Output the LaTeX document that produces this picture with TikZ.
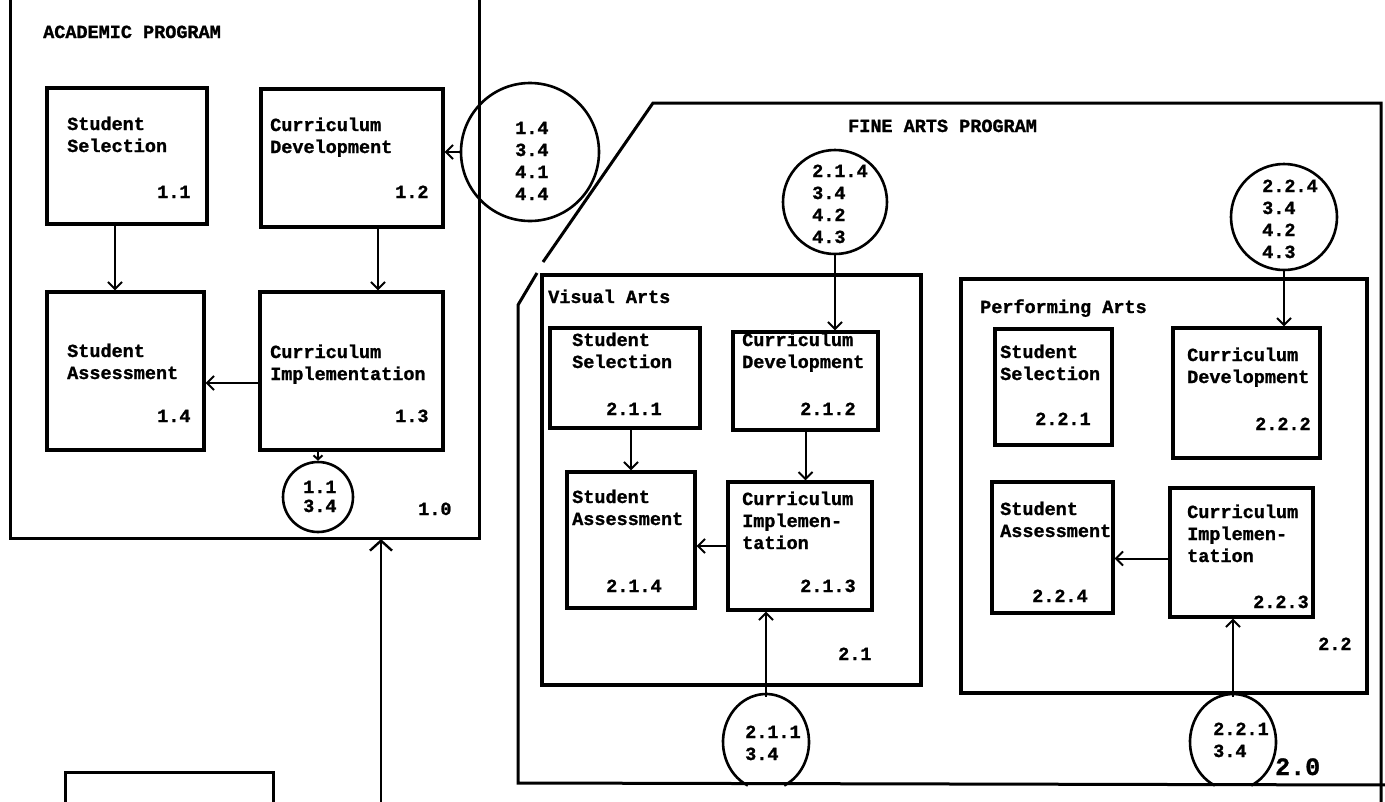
\documentclass[tikz,border=0pt]{standalone}
\usepackage{fontspec}
\setmainfont{Liberation Mono}[BoldFeatures={FakeBold=1.2}]
\usetikzlibrary{arrows.meta,fit}
\begin{document}
\begin{tikzpicture}[x=1pt,y=-1pt,
  box/.style={draw, line width=3.2pt, inner sep=0pt},
  txt/.style={font=\bfseries\fontsize{18.5}{22}\selectfont, inner sep=0pt, anchor=base west, align=left},
  big/.style={font=\bfseries\fontsize{25}{30}\selectfont, inner sep=0pt, anchor=base west},
  arr/.style={line width=2pt, -{Straight Barb[length=7pt,width=14pt]}},
  bigarr/.style={line width=2.4pt, -{Straight Barb[length=10pt,width=22pt]}},
  ring/.style={draw, circle, line width=2.6pt, inner sep=0pt},
  frame/.style={line width=3pt}]
\useasboundingbox (0,0) rectangle (1385,801);

%% ---------------- ACADEMIC PROGRAM ----------------
\draw[frame] (10,-5) -- (10,538) -- (479,538) -- (479,-5);
\node[txt] (tacad) at (43,38) {ACADEMIC PROGRAM};

\node[box, fit={(47,88)(207,224)}] (b11) {};
\node[txt] (t11) at (67,152) {Student\\Selection};
\node[txt] (n11) at (157,198) {1.1};

\node[box, fit={(261,89)(443,227)}] (b12) {};
\node[txt] (t12) at (270,153) {Curriculum\\Development};
\node[txt] (n12) at (395,198) {1.2};

\node[box, fit={(47,292)(204,450)}] (b14) {};
\node[txt] (t14) at (67,379) {Student\\Assessment};
\node[txt] (n14) at (157,422) {1.4};

\node[box, fit={(260,292)(443,450)}] (b13) {};
\node[txt] (t13) at (270,380) {Curriculum\\Implementation};
\node[txt] (n13) at (395,422) {1.3};

\node[ring, minimum size=70pt] (c13) at (318,497) {};
\node[txt, font=\bfseries\fontsize{18.5}{19}\selectfont] (tc13) at (303,512) {1.1\\3.4};
\node[txt] (n10) at (418,515) {1.0};

\node[ring, minimum size=138pt] (c1) at (530,152) {};
\node[txt] (tc1) at (515,200) {1.4\\3.4\\4.1\\4.4};

\draw[arr] ([xshift=-12pt]b11.south) -- ([xshift=-12pt]b11.south |- b14.north);
\draw[arr] ([xshift=26pt]b12.south) -- ([xshift=26pt]b12.south |- b13.north);
\draw[arr] ([yshift=-12pt]b13.west) -- ([yshift=-12pt]b13.west -| b14.east);
\draw[arr] (c1.180) -- (c1.180 -| b12.east);
\draw[line width=2pt, -{Straight Barb[length=4pt,width=9pt]}] (c13.north |- b13.south) -- (c13.north);

\coordinate (acadsrc) at (381,805);
\coordinate (acadin) at (381,539);
\draw[bigarr] (acadsrc) -- (acadin);

%% bottom-left box (cut off)
\draw[frame] (65,805) -- (65,772) -- (273,772) -- (273,805);

%% ---------------- FINE ARTS PROGRAM ----------------
\draw[frame] (543,262) -- (653,103) -- (1381,103) -- (1381,805);
\draw[frame] (537,273) -- (518,305) -- (518,783) -- (1390,785);
\node[txt] (tfine) at (848,132) {FINE ARTS PROGRAM};
\node[big] (n20) at (1275,775) {2.0};

%% Visual Arts
\node[box, fit={(542,275)(921,685)}] (va) {};
\node[txt] (tva) at (548,303) {Visual Arts};
\node[txt] (n21) at (838,660) {2.1};

\node[ring, minimum size=104pt] (c214) at (835,202) {};
\node[txt] (tc214) at (812,243) {2.1.4\\3.4\\4.2\\4.3};

\node[box, fit={(550,328)(700,428)}] (b211) {};
\node[txt] (t211) at (572,368) {Student\\Selection};
\node[txt] (n211) at (606,415) {2.1.1};

\node[box, fit={(733,332)(878,430)}] (b212) {};
\node[txt] (t212) at (742,368) {Curriculum\\Development};
\node[txt] (n212) at (800,415) {2.1.2};

\node[box, fit={(567,472)(695,608)}] (b214) {};
\node[txt] (t214) at (572,525) {Student\\Assessment};
\node[txt] (n214) at (606,592) {2.1.4};

\node[box, fit={(728,482)(872,610)}] (b213) {};
\node[txt] (t213) at (742,549) {Curriculum\\Implemen-\\tation};
\node[txt] (n213) at (800,592) {2.1.3};

\node[circle, minimum size=90pt, inner sep=0pt] (c211) at (766,742) {};
\draw[line width=2.6pt] ([shift={(115:43 and 48)}]c211.center) arc[start angle=115, end angle=425, x radius=43, y radius=48];
\node[txt] (tc211) at (745,760) {2.1.1\\3.4};

\draw[arr] (c214.south) -- (c214.south |- b212.north);
\draw[arr] (b214.north |- b211.south) -- (b214.north);
\draw[arr] (b212.south) -- (b212.south |- b213.north);
\draw[arr] (b213.west) -- (b213.west -| b214.east);
\draw[arr] (c211.north) -- (c211.north |- b213.south);

%% Performing Arts
\node[box, fit={(961,279)(1367,693)}] (pa) {};
\node[txt] (tpa) at (980,313) {Performing Arts};
\node[txt] (n22) at (1318,650) {2.2};

\node[ring, minimum size=106pt] (c224) at (1284,217) {};
\node[txt] (tc224) at (1262,258) {2.2.4\\3.4\\4.2\\4.3};

\node[box, fit={(995,329)(1112,445)}] (b221) {};
\node[txt] (t221) at (1000,380) {Student\\Selection};
\node[txt] (n221) at (1035,425) {2.2.1};

\node[box, fit={(1173,328)(1320,458)}] (b222) {};
\node[txt] (t222) at (1187,383) {Curriculum\\Development};
\node[txt] (n222) at (1255,430) {2.2.2};

\node[box, fit={(992,482)(1113,613)}] (b224) {};
\node[txt] (t224) at (1000,537) {Student\\Assessment};
\node[txt] (n224) at (1032,602) {2.2.4};

\node[box, fit={(1170,488)(1313,617)}] (b223) {};
\node[txt] (t223) at (1187,562) {Curriculum\\Implemen-\\tation};
\node[txt] (n223) at (1253,608) {2.2.3};

\node[circle, minimum size=90pt, inner sep=0pt] (c221) at (1233,742) {};
\draw[line width=2.6pt] ([shift={(115:43 and 48)}]c221.center) arc[start angle=115, end angle=425, x radius=43, y radius=48];
\node[txt] (tc221) at (1213,757) {2.2.1\\3.4};

\draw[arr] (c224.south) -- (c224.south |- b222.north);
\draw[arr] ([yshift=-6pt]b223.west) -- ([yshift=-6pt]b223.west -| b224.east);
\draw[arr] (c221.north) -- (c221.north |- b223.south);
\end{tikzpicture}
\end{document}
